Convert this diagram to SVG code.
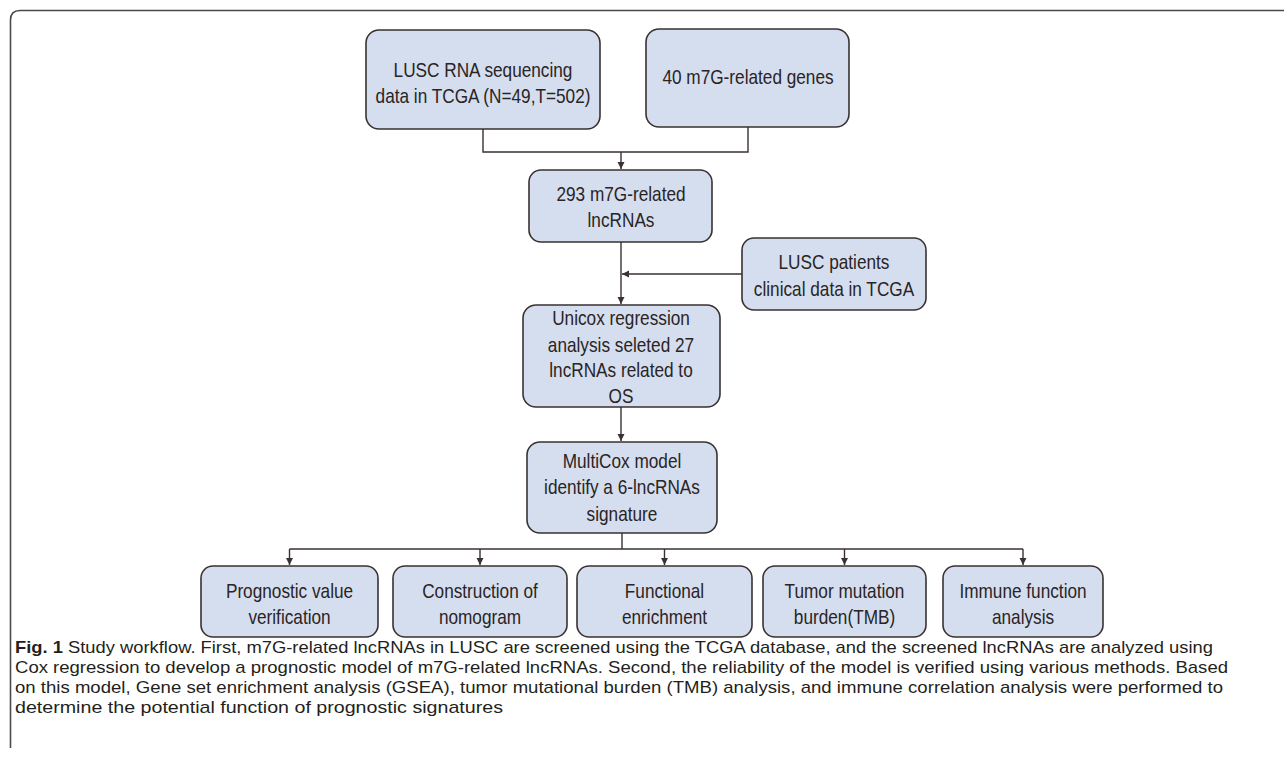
<svg xmlns="http://www.w3.org/2000/svg" width="1284" height="757" viewBox="0 0 1284 757">
<defs>
<style>
.box{fill:#d5deef;stroke:#3a3131;stroke-width:1.6}
.t{font-family:"Liberation Sans",Arial,sans-serif;font-size:21px;fill:#2a2424;text-anchor:middle}
.c{fill:none;stroke:#3a3131;stroke-width:1.4}
.cap{font-family:"Liberation Sans",Arial,sans-serif;font-size:17px;fill:#231f20}
</style>
<marker id="ah" markerWidth="8" markerHeight="8" refX="7" refY="4" orient="auto" markerUnits="userSpaceOnUse">
<path d="M0,0.5 L7,4 L0,7.5 Z" fill="#3a3131"/>
</marker>
</defs>
<rect width="1284" height="757" fill="#ffffff"/>
<path d="M10.5,748 V20 Q10.5,10.5 20,10.5 H1284" fill="none" stroke="#4a4a4a" stroke-width="1.6"/>

<g id="connectors">
<path class="c" d="M483,129 V152 H748 V127"/>
<path class="c" d="M621,152 V169" marker-end="url(#ah)"/>
<path class="c" d="M621,242 V304" marker-end="url(#ah)"/>
<path class="c" d="M742,274 H622" marker-end="url(#ah)"/>
<path class="c" d="M621,407 V441" marker-end="url(#ah)"/>
<path class="c" d="M622,533 V549"/>
<path class="c" d="M289.5,549 H1023"/>
<path class="c" d="M289.5,549 V565" marker-end="url(#ah)"/>
<path class="c" d="M480,549 V565" marker-end="url(#ah)"/>
<path class="c" d="M664.5,549 V565" marker-end="url(#ah)"/>
<path class="c" d="M844.5,549 V565" marker-end="url(#ah)"/>
<path class="c" d="M1023,549 V565" marker-end="url(#ah)"/>
</g>

<g id="n1">
<rect class="box" x="366" y="30" width="234" height="99" rx="13"/>
<text class="t" transform="translate(483,77) scale(0.82 1)">LUSC RNA sequencing</text>
<text class="t" transform="translate(483,103) scale(0.82 1)">data in TCGA (N=49,T=502)</text>
</g>
<g id="n2">
<rect class="box" x="646" y="29" width="203" height="98" rx="13"/>
<text class="t" transform="translate(748,84) scale(0.82 1)">40 m7G-related genes</text>
</g>
<g id="n3">
<rect class="box" x="529" y="170" width="183" height="72" rx="12"/>
<text class="t" transform="translate(621,201) scale(0.82 1)">293 m7G-related</text>
<text class="t" transform="translate(621,227) scale(0.82 1)">lncRNAs</text>
</g>
<g id="n5">
<rect class="box" x="742" y="238" width="184" height="72" rx="12"/>
<text class="t" transform="translate(834,269) scale(0.82 1)">LUSC patients</text>
<text class="t" transform="translate(834,296) scale(0.82 1)">clinical data in TCGA</text>
</g>
<g id="n4">
<rect class="box" x="523" y="305" width="197" height="102" rx="13"/>
<text class="t" transform="translate(621,325) scale(0.82 1)">Unicox regression</text>
<text class="t" transform="translate(621,352) scale(0.82 1)">analysis seleted 27</text>
<text class="t" transform="translate(621,377) scale(0.82 1)">lncRNAs related to</text>
<text class="t" transform="translate(621,403) scale(0.82 1)">OS</text>
</g>
<g id="n6">
<rect class="box" x="527" y="442" width="190" height="91" rx="13"/>
<text class="t" transform="translate(622,468) scale(0.82 1)">MultiCox model</text>
<text class="t" transform="translate(622,494) scale(0.82 1)">identify a 6-lncRNAs</text>
<text class="t" transform="translate(622,521) scale(0.82 1)">signature</text>
</g>
<g id="b1">
<rect class="box" x="201" y="566" width="177" height="71" rx="12"/>
<text class="t" transform="translate(289.5,598) scale(0.82 1)">Prognostic value</text>
<text class="t" transform="translate(289.5,624) scale(0.82 1)">verification</text>
</g>
<g id="b2">
<rect class="box" x="393" y="566" width="174" height="71" rx="12"/>
<text class="t" transform="translate(480,598) scale(0.82 1)">Construction of</text>
<text class="t" transform="translate(480,624) scale(0.82 1)">nomogram</text>
</g>
<g id="b3">
<rect class="box" x="577" y="566" width="175" height="71" rx="12"/>
<text class="t" transform="translate(664.5,598) scale(0.82 1)">Functional</text>
<text class="t" transform="translate(664.5,624) scale(0.82 1)">enrichment</text>
</g>
<g id="b4">
<rect class="box" x="763" y="566" width="163" height="71" rx="12"/>
<text class="t" transform="translate(844.5,598) scale(0.82 1)">Tumor mutation</text>
<text class="t" transform="translate(844.5,624) scale(0.82 1)">burden(TMB)</text>
</g>
<g id="b5">
<rect class="box" x="943" y="566" width="160" height="71" rx="12"/>
<text class="t" transform="translate(1023,598) scale(0.82 1)">Immune function</text>
<text class="t" transform="translate(1023,624) scale(0.82 1)">analysis</text>
</g>

<g id="caption">
<text class="cap" x="15" y="653" textLength="1198" lengthAdjust="spacingAndGlyphs"><tspan font-weight="bold">Fig. 1</tspan>  Study workflow. First, m7G-related lncRNAs in LUSC are screened using the TCGA database, and the screened lncRNAs are analyzed using</text>
<text class="cap" x="15" y="673" textLength="1213" lengthAdjust="spacingAndGlyphs">Cox regression to develop a prognostic model of m7G-related lncRNAs. Second, the reliability of the model is verified using various methods. Based</text>
<text class="cap" x="15" y="693" textLength="1208" lengthAdjust="spacingAndGlyphs">on this model, Gene set enrichment analysis (GSEA), tumor mutational burden (TMB) analysis, and immune correlation analysis were performed to</text>
<text class="cap" x="15" y="713" textLength="488" lengthAdjust="spacingAndGlyphs">determine the potential function of prognostic signatures</text>
</g>
</svg>
